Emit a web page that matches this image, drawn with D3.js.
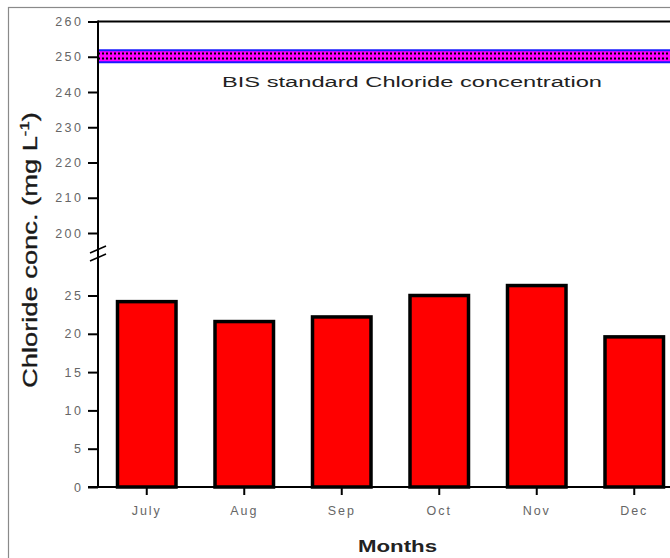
<!DOCTYPE html>
<html>
<head>
<meta charset="utf-8">
<script src="https://cdn.jsdelivr.net/npm/d3@7/dist/d3.min.js"></script>
<style>
  html, body { margin: 0; padding: 0; background: #fff; }
  svg { display: block; }
  text { font-family: "Liberation Sans", Arial, sans-serif; }
</style>
</head>
<body>
<svg id="chart" width="670" height="558"></svg>
<script>
// Monthly chloride concentration (mg/L) with the BIS standard as reference
const months = ["July", "Aug", "Sep", "Oct", "Nov", "Dec"];
const chloride = [24.2, 21.6, 22.2, 25.0, 26.3, 19.6];
const bisStandard = 250;
const lowerTicks = [0, 5, 10, 15, 20, 25];
const upperTicks = [200, 210, 220, 230, 240, 250, 260];

const svg = d3.select("#chart");

// outer frame
svg.append("rect")
  .attr("x", 8.5).attr("y", 7.5)
  .attr("width", 700).attr("height", 600)
  .attr("fill", "none").attr("stroke", "#8a8a8a").attr("stroke-width", 1.2);

// dotted fill for the standard band
const defs = svg.append("defs");
const pat = defs.append("pattern")
  .attr("id", "bisFill").attr("patternUnits", "userSpaceOnUse")
  .attr("width", 4).attr("height", 5).attr("x", 0).attr("y", 51);
pat.append("rect").attr("width", 4).attr("height", 5).attr("fill", "#ff00ff");
pat.append("rect").attr("x", 2).attr("y", 1.5).attr("width", 2).attr("height", 2).attr("fill", "#000");

const axisX = 98;
const x = d3.scaleBand().domain(months).range([axisX, 683]).paddingInner(0.4).paddingOuter(0.2);

// broken y axis: two linear segments
const yLow = d3.scaleLinear().domain([0, 25]).range([487, 295.5]);
const yTop = d3.scaleLinear().domain([200, 260]).range([233, 21.5]);

// top border of plot
svg.append("line")
  .attr("x1", axisX).attr("x2", 670)
  .attr("y1", yTop(260)).attr("y2", yTop(260))
  .attr("stroke", "#000").attr("stroke-width", 2);

// BIS standard band
const bandH = 12;
svg.append("rect")
  .attr("x", axisX).attr("y", yTop(bisStandard) - bandH / 2 - 0.5)
  .attr("width", 600).attr("height", bandH)
  .attr("fill", "url(#bisFill)")
  .attr("stroke", "#1a1aff").attr("stroke-width", 2);

svg.append("text")
  .attr("x", 222).attr("y", 87)
  .attr("font-size", 14).attr("fill", "#222")
  .attr("textLength", 380).attr("lengthAdjust", "spacingAndGlyphs")
  .text("BIS standard Chloride concentration");

// bars
svg.append("g").selectAll("rect")
  .data(chloride)
  .join("rect")
  .attr("x", (d, i) => x(months[i]))
  .attr("width", x.bandwidth())
  .attr("y", d => yLow(d))
  .attr("height", d => yLow(0) - yLow(d))
  .attr("fill", "#ff0000")
  .attr("stroke", "#000").attr("stroke-width", 3.5);

// y axes (segments)
function styleAxis(g) {
  g.select(".domain").remove();
  g.selectAll(".tick line").attr("stroke", "#000").attr("stroke-width", 2);
  g.selectAll(".tick text")
    .attr("fill", "#666").attr("font-size", 12.5)
    .attr("letter-spacing", 2.5).attr("x", -14.5);
}
svg.append("g").attr("transform", `translate(${axisX},0)`)
  .call(d3.axisLeft(yTop).tickValues(upperTicks).tickSize(10).tickFormat(d3.format("d")))
  .call(styleAxis);
svg.append("g").attr("transform", `translate(${axisX},0)`)
  .call(d3.axisLeft(yLow).tickValues(lowerTicks).tickSize(10).tickFormat(d3.format("d")))
  .call(styleAxis);

// y spine
svg.append("line")
  .attr("x1", axisX).attr("x2", axisX)
  .attr("y1", yTop(260) - 1).attr("y2", yLow(0))
  .attr("stroke", "#000").attr("stroke-width", 2);

// break marks
[249, 257].forEach(by => {
  svg.append("line")
    .attr("x1", axisX - 8).attr("y1", by + 4)
    .attr("x2", axisX + 8).attr("y2", by - 3)
    .attr("stroke", "#000").attr("stroke-width", 1.5);
});

// x axis
const xg = svg.append("g").attr("transform", `translate(0,${yLow(0)})`)
  .call(d3.axisBottom(x).tickSize(8).tickSizeOuter(0));
xg.select(".domain").remove();
xg.selectAll(".tick line").attr("stroke", "#000").attr("stroke-width", 2);
xg.selectAll(".tick text")
  .attr("fill", "#666").attr("font-size", 12.5).attr("letter-spacing", 2)
  .attr("y", 19).attr("dy", "0.71em");
svg.append("line")
  .attr("x1", axisX - 10).attr("x2", 670)
  .attr("y1", yLow(0)).attr("y2", yLow(0))
  .attr("stroke", "#000").attr("stroke-width", 2);

// axis titles
svg.append("text")
  .attr("x", 358).attr("y", 552)
  .attr("font-size", 16).attr("font-weight", "bold").attr("fill", "#222")
  .attr("textLength", 79).attr("lengthAdjust", "spacingAndGlyphs")
  .text("Months");

const yt = svg.append("text")
  .attr("transform", "translate(37,250) rotate(-90) scale(1.3,1)")
  .attr("text-anchor", "middle")
  .attr("font-size", 21).attr("fill", "#1a1a1a")
  .attr("stroke", "#1a1a1a").attr("stroke-width", 0.35);
yt.append("tspan").text("Chloride conc. (mg L");
yt.append("tspan").attr("font-size", 13).attr("dy", -8).text("-1");
yt.append("tspan").attr("dy", 8).text(")");
</script>
</body>
</html>
